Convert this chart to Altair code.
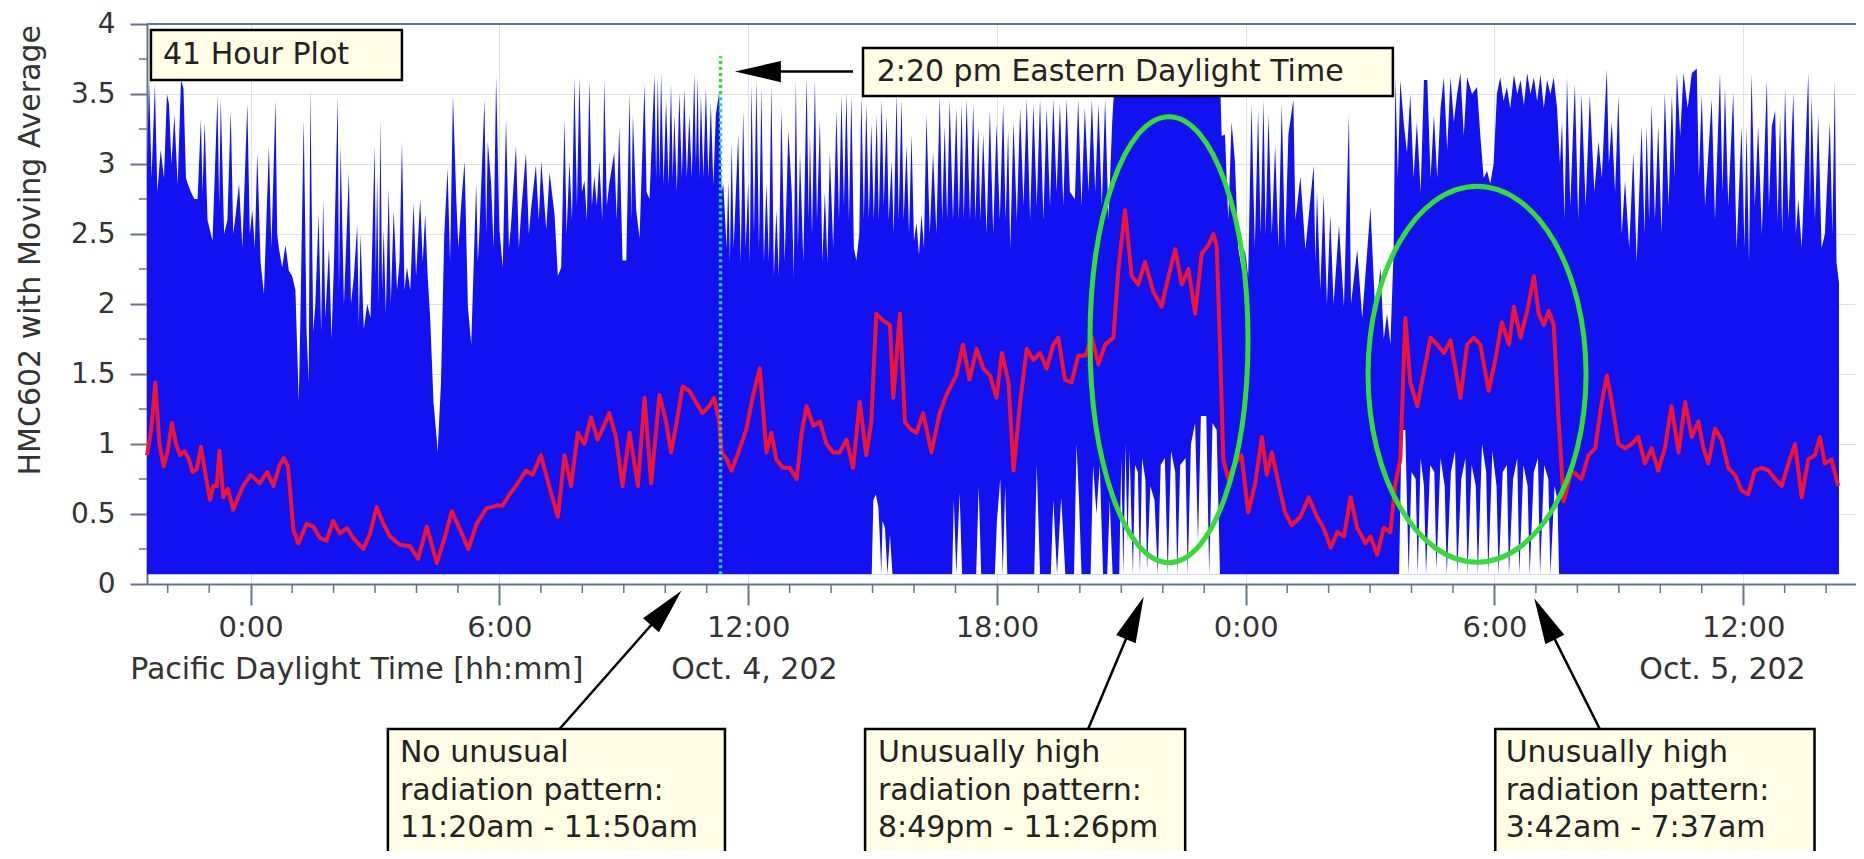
import math
import altair as alt
import pandas as pd

# ---------------- data (hours relative to Oct. 4 0:00 PDT) ----------------
hour_ticks = [0, 6, 12, 18, 24, 30, 36]
minor_hours = [h for h in range(-2, 39) if h % 6 != 0]
value_ticks = [0, 0.5, 1, 1.5, 2, 2.5, 3, 3.5, 4]
minor_values = [0.25, 0.75, 1.25, 1.75, 2.25, 2.75, 3.25, 3.75]
y_title = "HMC602 with Moving Average"

# upper envelope of the raw HMC602 trace (spike tops and valleys)
blue_top = [
    (-2.50, 3.0), (-2.49, 3.1), (-2.45, 3.6), (-2.39, 2.9), (-2.31, 3.57), (-2.25, 2.8), (-2.17, 3.1),
    (-2.09, 2.9), (-2.02, 3.5), (-1.97, 3.43), (-1.91, 3.0), (-1.84, 3.35), (-1.76, 2.85), (-1.68, 3.6),
    (-1.62, 3.54), (-1.56, 2.9), (-1.52, 2.86), (-1.44, 2.8), (-1.36, 2.75), (-1.28, 2.75), (-1.20, 3.32),
    (-1.16, 2.8), (-1.11, 3.3), (-1.04, 2.6), (-0.92, 2.45), (-0.80, 3.49), (-0.76, 2.7), (-0.72, 3.46),
    (-0.64, 2.5), (-0.56, 2.6), (-0.48, 3.38), (-0.42, 2.5), (-0.36, 2.64), (-0.28, 2.86), (-0.20, 2.4),
    (-0.08, 3.43), (-0.02, 2.5), (0.04, 2.67), (0.10, 2.4), (0.16, 3.08), (0.24, 2.3), (0.32, 2.07),
    (0.38, 2.6), (0.44, 3.13), (0.50, 2.4), (0.60, 3.46), (0.64, 2.5), (0.68, 2.4), (0.76, 2.26),
    (0.84, 2.42), (0.92, 2.24), (1.00, 2.2), (1.08, 2.1), (1.16, 1.3), (1.20, 1.9), (1.28, 3.32),
    (1.35, 1.8), (1.40, 1.44), (1.44, 3.54), (1.51, 1.8), (1.56, 2.0), (1.64, 2.64), (1.70, 1.8),
    (1.75, 2.75), (1.80, 1.9), (1.89, 2.4), (1.95, 1.75), (2.01, 2.3), (2.10, 3.49), (2.13, 2.1),
    (2.17, 3.13), (2.25, 2.0), (2.37, 2.94), (2.42, 2.0), (2.49, 2.2), (2.57, 2.56), (2.61, 1.85),
    (2.65, 2.5), (2.73, 1.82), (2.81, 2.0), (2.89, 1.9), (2.99, 3.13), (3.02, 2.2), (3.05, 2.92),
    (3.09, 2.0), (3.13, 3.32), (3.17, 2.1), (3.21, 2.53), (3.26, 1.93), (3.33, 2.83), (3.38, 2.0),
    (3.45, 2.67), (3.53, 2.1), (3.59, 2.3), (3.65, 3.16), (3.71, 2.1), (3.77, 2.26), (3.85, 2.1),
    (3.93, 2.72), (3.99, 2.2), (4.09, 2.75), (4.15, 2.3), (4.21, 2.64), (4.27, 2.2), (4.33, 1.9),
    (4.41, 1.3), (4.49, 1.03),
    (4.51, 0.94), (4.59, 1.43), (4.67, 2.5), (4.75, 2.97), (4.81, 2.3), (4.88, 3.49), (4.96, 2.75),
    (5.01, 2.4), (5.08, 2.72), (5.16, 3.02), (5.24, 1.98), (5.32, 1.71), (5.44, 2.86), (5.48, 2.3),
    (5.52, 2.53), (5.64, 3.46), (5.68, 2.5), (5.72, 3.16), (5.80, 2.86), (5.86, 2.4), (5.92, 3.62),
    (6.00, 2.53), (6.08, 2.26), (6.16, 3.32), (6.23, 2.4), (6.28, 2.56), (6.40, 3.13), (6.47, 2.4),
    (6.52, 2.64), (6.64, 3.08), (6.71, 2.5), (6.76, 2.67), (6.88, 2.99), (6.95, 2.6), (7.01, 3.02),
    (7.13, 2.53), (7.21, 2.94), (7.33, 2.64), (7.41, 2.2), (7.49, 2.26), (7.57, 3.32), (7.62, 2.5),
    (7.69, 3.02), (7.75, 2.6), (7.81, 3.62), (7.87, 2.7), (7.93, 3.62), (7.99, 2.8), (8.05, 2.88),
    (8.11, 2.6), (8.17, 3.6), (8.23, 2.7), (8.29, 2.91), (8.35, 2.7), (8.41, 3.02), (8.48, 2.6),
    (8.53, 3.6), (8.59, 2.7), (8.65, 2.86), (8.77, 3.08), (8.83, 2.6), (8.89, 3.27), (8.97, 2.31),
    (9.06, 2.31), (9.14, 3.51), (9.18, 2.6), (9.22, 3.35), (9.30, 2.67), (9.38, 2.47), (9.50, 3.57),
    (9.55, 2.8), (9.62, 2.75), (9.74, 3.64), (9.78, 2.9), (9.82, 3.62), (9.86, 2.9), (9.90, 3.65),
    (9.96, 2.85), (10.02, 3.46), (10.08, 2.85), (10.14, 3.57), (10.18, 2.9), (10.22, 3.35), (10.28, 2.8),
    (10.34, 3.51), (10.40, 2.9), (10.46, 3.54), (10.52, 2.9), (10.58, 3.35), (10.64, 2.9), (10.70, 3.65),
    (10.74, 3.0), (10.78, 3.62), (10.82, 2.9), (10.86, 3.49), (10.92, 2.9), (10.98, 3.54), (11.04, 2.9),
    (11.10, 3.43), (11.16, 2.85), (11.22, 3.35), (11.30, 3.51),
    (11.36, 2.8), (11.40, 2.86), (11.48, 2.4), (11.52, 2.88), (11.56, 2.3), (11.60, 3.16), (11.65, 2.4),
    (11.76, 3.21), (11.82, 2.3), (11.88, 3.38), (11.94, 2.4), (12.00, 2.86), (12.04, 2.3), (12.08, 3.57),
    (12.14, 2.5), (12.20, 3.6), (12.26, 2.4), (12.32, 3.54), (12.38, 2.3), (12.44, 2.86), (12.50, 2.3),
    (12.56, 3.57), (12.62, 2.2), (12.68, 2.67), (12.74, 2.2), (12.80, 3.4), (12.88, 2.3), (12.97, 3.24),
    (13.05, 2.8), (13.10, 2.2), (13.15, 3.6), (13.20, 2.4), (13.25, 3.08), (13.33, 2.3), (13.41, 3.62),
    (13.46, 2.6), (13.49, 3.21), (13.54, 2.5), (13.61, 3.6), (13.66, 2.6), (13.73, 3.32), (13.79, 2.3),
    (13.85, 2.8), (13.91, 2.3), (13.97, 3.08), (14.05, 2.4), (14.13, 3.38), (14.19, 2.6), (14.25, 3.49),
    (14.31, 2.7), (14.37, 3.51), (14.43, 2.6), (14.49, 3.49), (14.55, 2.4), (14.61, 2.31), (14.68, 2.5),
    (14.73, 3.49), (14.79, 2.6), (14.85, 3.43), (14.91, 2.6), (14.97, 3.29), (15.03, 2.6), (15.10, 3.35),
    (15.15, 2.6), (15.22, 3.46), (15.27, 2.7), (15.34, 3.35), (15.39, 2.6), (15.46, 3.02), (15.51, 2.5),
    (15.58, 3.51), (15.63, 2.6), (15.70, 3.46), (15.75, 2.6), (15.82, 3.13), (15.88, 2.5), (15.94, 3.21),
    (16.00, 2.45), (16.06, 2.58), (16.12, 2.35), (16.18, 2.64), (16.24, 2.4), (16.30, 3.35), (16.38, 2.5),
    (16.46, 3.08), (16.54, 2.5), (16.62, 3.49), (16.68, 2.6), (16.74, 3.27), (16.80, 2.6), (16.86, 3.46),
    (16.94, 2.6), (17.02, 3.4), (17.08, 2.6), (17.15, 3.43), (17.20, 2.6), (17.27, 3.46), (17.35, 2.6),
    (17.43, 3.43), (17.48, 2.6), (17.55, 3.27), (17.60, 2.6), (17.67, 3.21), (17.75, 2.5), (17.83, 3.38),
    (17.91, 2.5), (17.99, 3.29), (18.07, 2.6), (18.15, 3.43), (18.21, 2.6), (18.27, 3.24),
    (18.32, 2.39), (18.40, 3.3), (18.48, 2.6), (18.56, 3.4), (18.64, 2.7), (18.72, 3.46), (18.80, 2.6),
    (18.88, 3.43), (18.96, 2.7), (19.04, 3.46), (19.12, 2.6), (19.20, 3.4), (19.28, 2.7), (19.36, 3.46),
    (19.44, 2.8), (19.52, 3.43), (19.60, 2.7), (19.68, 3.46), (19.76, 2.8), (19.88, 2.75), (19.96, 3.46),
    (20.04, 2.7), (20.12, 3.4), (20.21, 2.8), (20.29, 3.46), (20.37, 2.8), (20.45, 3.43), (20.53, 2.7),
    (20.61, 3.46), (20.69, 2.6), (20.78, 3.3), (20.85, 3.65), (23.38, 3.65), (23.42, 3.2), (23.50, 3.21),
    (23.58, 2.6), (23.66, 3.3), (23.74, 3.02), (23.82, 2.4), (23.90, 2.26), (23.98, 2.39), (24.06, 2.2),
    (24.14, 3.43), (24.22, 2.4), (24.30, 3.38), (24.36, 2.5), (24.43, 3.46), (24.48, 2.5), (24.55, 3.35),
    (24.63, 2.5), (24.71, 3.13), (24.79, 2.4), (24.87, 3.43), (24.95, 2.39), (25.03, 3.21), (25.15, 3.46),
    (25.20, 2.6), (25.32, 2.91), (25.44, 2.39), (25.64, 2.99), (25.68, 2.3), (25.72, 2.8), (25.80, 2.1),
    (25.88, 2.78), (25.96, 2.0), (26.04, 2.64), (26.12, 2.0), (26.25, 2.56), (26.37, 1.98), (26.49, 3.35),
    (26.54, 2.0), (26.69, 2.39), (26.81, 1.9), (27.01, 2.69), (27.13, 1.9), (27.25, 2.26), (27.33, 1.75),
    (27.41, 1.93), (27.49, 1.71), (27.57, 2.4), (27.61, 3.62), (27.67, 2.9), (27.73, 3.6), (27.81, 3.3),
    (27.89, 3.08), (27.97, 3.5), (28.05, 2.9), (28.13, 3.3), (28.22, 2.8), (28.30, 3.6), (28.38, 3.6),
    (28.46, 2.9), (28.54, 3.35), (28.62, 2.9), (28.70, 3.4), (28.78, 3.62), (28.86, 3.1), (28.94, 3.62),
    (29.02, 3.3), (29.10, 3.5), (29.18, 3.65), (29.26, 3.2), (29.34, 3.62), (29.46, 3.5), (29.58, 3.55),
    (29.66, 3.2), (29.74, 2.9), (29.82, 2.95), (29.90, 2.86), (29.98, 3.0), (30.06, 3.5), (30.14, 3.62),
    (30.22, 3.45), (30.30, 3.55), (30.38, 3.4), (30.47, 3.64), (30.55, 3.5), (30.63, 3.6), (30.71, 3.42),
    (30.79, 3.65), (30.87, 3.5), (30.95, 3.62), (31.03, 3.45), (31.11, 3.64), (31.19, 3.4), (31.27, 3.6),
    (31.35, 3.5), (31.43, 3.62), (31.51, 3.4), (31.58, 3.0), (31.63, 3.3), (31.69, 2.6), (31.75, 3.62),
    (31.83, 2.7), (31.91, 3.35),
    (31.94, 3.57), (32.02, 2.6), (32.10, 3.5), (32.20, 2.7), (32.30, 3.49), (32.41, 2.8), (32.51, 3.16),
    (32.59, 2.9), (32.71, 3.68), (32.76, 3.0), (32.83, 3.3), (32.91, 2.8), (32.99, 3.49), (33.07, 2.5),
    (33.15, 2.88), (33.25, 2.4), (33.35, 3.08), (33.43, 2.3), (33.55, 3.27), (33.62, 2.5), (33.67, 3.27),
    (33.73, 2.6), (33.79, 3.43), (33.87, 2.6), (33.95, 3.27), (34.03, 2.5), (34.11, 3.51), (34.20, 2.7),
    (34.28, 3.49), (34.34, 2.9), (34.40, 3.65), (34.48, 3.2), (34.56, 3.65), (34.66, 3.4), (34.76, 3.65),
    (34.88, 3.68), (34.93, 2.9), (35.00, 3.49), (35.08, 2.7), (35.16, 3.08), (35.24, 3.46), (35.32, 2.6),
    (35.44, 3.65), (35.50, 2.8), (35.56, 3.54), (35.64, 2.7), (35.76, 3.51), (35.84, 2.39), (35.96, 3.27),
    (36.03, 2.4), (36.08, 3.27), (36.14, 2.3), (36.20, 3.65), (36.28, 2.7), (36.36, 3.27), (36.45, 2.5),
    (36.57, 3.6), (36.62, 2.7), (36.69, 3.27), (36.77, 3.38), (36.83, 2.6), (36.89, 3.35), (36.94, 2.5),
    (37.01, 3.54), (37.09, 2.6), (37.21, 3.51), (37.27, 2.5), (37.33, 2.75), (37.41, 2.4), (37.57, 3.65),
    (37.61, 2.7), (37.65, 3.49), (37.73, 2.6), (37.81, 3.35), (37.89, 2.4), (37.97, 2.5), (38.09, 3.3),
    (38.15, 2.5), (38.21, 3.6), (38.25, 2.3), (38.31, 2.15),
]

# white holes at the bottom of the raw trace (lower envelope)
white_gaps = [
    (14.98, 0.07), (15.02, 0.6), (15.08, 0.64), (15.14, 0.55), (15.18, 0.3), (15.21, 0.07), (15.24, 0.45),
    (15.30, 0.4), (15.36, 0.07), (15.42, 0.35), (15.48, 0.07),
    (16.92, 0.07), (16.96, 0.6), (17.02, 0.07), (17.10, 0.65), (17.16, 0.07),
    (17.50, 0.07), (17.56, 0.7), (17.62, 0.07),
    (17.95, 0.07), (18.00, 0.45), (18.08, 0.75), (18.14, 0.07), (18.20, 0.7), (18.25, 0.07),
    (18.90, 0.07), (18.96, 0.85), (19.04, 0.07),
    (19.30, 0.07), (19.36, 0.6), (19.45, 0.07), (19.55, 0.62), (19.65, 0.07),
    (19.86, 0.07), (19.92, 1.0), (19.98, 0.6), (20.04, 0.07),
    (20.26, 0.07), (20.32, 0.85), (20.40, 0.5), (20.48, 0.85), (20.56, 0.07),
    (20.66, 0.07), (20.72, 0.6), (20.79, 0.07),
    (20.95, 0.07), (21.00, 0.9), (21.05, 0.07), (21.10, 1.0), (21.15, 0.3), (21.20, 0.95), (21.28, 0.07),
    (21.33, 0.85), (21.40, 0.8), (21.45, 0.07), (21.50, 0.9), (21.58, 0.75), (21.62, 0.1), (21.70, 0.7),
    (21.80, 0.6), (21.88, 0.07), (21.95, 0.85), (22.05, 0.9), (22.12, 0.07), (22.20, 0.95), (22.30, 0.8),
    (22.35, 0.07), (22.42, 0.85), (22.55, 0.9), (22.60, 0.07), (22.68, 1.0), (22.78, 1.15), (22.85, 0.3),
    (22.92, 1.2), (23.05, 1.2), (23.12, 0.07), (23.20, 1.15), (23.30, 1.1), (23.38, 0.07),
    (27.70, 0.07), (27.76, 1.1), (27.85, 1.1), (27.93, 0.07), (28.00, 0.8), (28.10, 0.75), (28.15, 0.07),
    (28.22, 0.9), (28.30, 0.7), (28.35, 0.07), (28.45, 0.85), (28.55, 0.8), (28.60, 0.1), (28.70, 0.9),
    (28.80, 0.7), (28.85, 0.07), (28.95, 0.8), (29.05, 0.95), (29.10, 0.07), (29.20, 0.75), (29.30, 0.9),
    (29.35, 0.07), (29.45, 0.85), (29.55, 0.7), (29.60, 0.07), (29.70, 1.0), (29.80, 0.8), (29.85, 0.07),
    (29.95, 0.95), (30.05, 0.7), (30.10, 0.07), (30.20, 0.8), (30.30, 0.85), (30.35, 0.07), (30.45, 0.75),
    (30.55, 0.9), (30.60, 0.07), (30.70, 0.85), (30.80, 0.7), (30.85, 0.07), (30.95, 0.8), (31.05, 0.9),
    (31.10, 0.07), (31.20, 0.85), (31.30, 0.75), (31.35, 0.07), (31.45, 0.7), (31.52, 0.6), (31.56, 0.07),
]

# moving average (red)
red_avg = [
    (-2.5, 0.92), (-2.4, 1.1), (-2.3, 1.44), (-2.2, 1.0), (-2.1, 0.84), (-2.0, 0.95), (-1.9, 1.15),
    (-1.8, 1.0), (-1.7, 0.92), (-1.6, 0.95), (-1.5, 0.9), (-1.4, 0.8), (-1.3, 0.82), (-1.2, 0.98),
    (-1.1, 0.8), (-0.98, 0.6), (-0.9, 0.7), (-0.82, 0.7), (-0.75, 0.95), (-0.66, 0.62), (-0.55, 0.68),
    (-0.42, 0.53), (-0.3, 0.62), (-0.18, 0.7), (0.0, 0.78), (0.22, 0.72), (0.4, 0.8), (0.55, 0.7),
    (0.7, 0.85), (0.8, 0.9), (0.9, 0.84), (0.95, 0.67), (1.03, 0.39), (1.15, 0.29), (1.35, 0.43),
    (1.51, 0.41), (1.67, 0.33), (1.83, 0.31), (1.99, 0.45), (2.15, 0.36), (2.32, 0.4), (2.47, 0.33),
    (2.72, 0.25), (2.88, 0.36), (3.04, 0.55), (3.2, 0.43), (3.36, 0.34), (3.6, 0.28), (3.84, 0.27),
    (4.04, 0.18), (4.25, 0.41), (4.49, 0.15), (4.69, 0.34), (4.85, 0.52), (5.05, 0.39), (5.25, 0.25),
    (5.45, 0.43), (5.69, 0.54), (5.93, 0.56), (6.08, 0.56), (6.24, 0.64), (6.4, 0.7), (6.64, 0.81),
    (6.8, 0.78), (7.0, 0.92), (7.2, 0.7), (7.41, 0.48), (7.57, 0.92), (7.73, 0.7), (7.89, 1.08),
    (8.05, 1.0), (8.21, 1.19), (8.37, 1.03), (8.49, 1.11), (8.65, 1.22), (8.81, 1.05), (8.97, 0.7),
    (9.14, 1.08), (9.34, 0.7), (9.5, 1.33), (9.66, 0.72), (9.86, 1.35), (10.02, 1.16), (10.14, 0.94),
    (10.26, 1.13), (10.42, 1.41), (10.58, 1.38), (10.74, 1.3), (10.9, 1.22), (11.06, 1.27), (11.18, 1.33),
    (11.3, 1.16), (11.36, 0.94), (11.48, 0.89), (11.6, 0.81), (11.8, 0.97), (11.96, 1.11), (12.12, 1.35),
    (12.28, 1.54), (12.44, 0.94), (12.56, 1.08), (12.68, 0.89), (12.84, 0.83), (13.0, 0.83), (13.17, 0.75),
    (13.29, 1.08), (13.41, 1.27), (13.57, 1.13), (13.73, 1.16), (13.89, 1.0), (14.05, 0.94), (14.21, 0.94),
    (14.37, 1.03), (14.53, 0.83), (14.69, 1.3), (14.85, 0.92), (14.97, 1.16), (15.09, 1.93), (15.26, 1.88),
    (15.42, 1.85), (15.5, 1.33), (15.66, 1.93), (15.78, 1.16), (15.9, 1.11), (16.06, 1.08), (16.22, 1.22),
    (16.42, 0.94), (16.62, 1.22), (16.78, 1.35), (17.02, 1.49), (17.18, 1.71), (17.34, 1.46), (17.51, 1.68),
    (17.67, 1.54), (17.83, 1.49), (17.99, 1.33), (18.12, 1.65), (18.28, 1.44), (18.4, 0.81), (18.56, 1.3),
    (18.72, 1.68), (18.88, 1.6), (19.04, 1.65), (19.2, 1.54), (19.36, 1.71), (19.48, 1.76), (19.64, 1.46),
    (19.8, 1.44), (19.96, 1.63), (20.13, 1.63), (20.29, 1.76), (20.45, 1.57), (20.61, 1.71), (20.81, 1.76),
    (20.93, 2.25), (21.09, 2.67), (21.25, 2.2), (21.41, 2.14), (21.57, 2.3), (21.77, 2.09), (21.97, 1.98),
    (22.14, 2.2), (22.3, 2.39), (22.46, 2.14), (22.62, 2.25), (22.78, 1.93), (22.94, 2.36), (23.1, 2.42),
    (23.22, 2.5), (23.3, 2.42), (23.38, 1.71), (23.46, 0.89), (23.58, 0.75), (23.74, 0.86), (23.9, 0.92),
    (24.06, 0.51), (24.23, 0.72), (24.39, 1.05), (24.51, 0.78), (24.63, 0.94), (24.79, 0.72), (24.95, 0.51),
    (25.11, 0.42), (25.32, 0.48), (25.52, 0.62), (25.72, 0.48), (25.88, 0.4), (26.05, 0.26), (26.21, 0.37),
    (26.37, 0.34), (26.53, 0.62), (26.69, 0.4), (26.89, 0.29), (27.01, 0.34), (27.17, 0.21), (27.33, 0.4),
    (27.49, 0.37), (27.61, 0.72), (27.73, 0.89), (27.85, 1.9), (27.97, 1.44), (28.14, 1.27), (28.3, 1.52),
    (28.46, 1.76), (28.62, 1.71), (28.78, 1.65), (28.94, 1.74), (29.18, 1.33), (29.34, 1.71), (29.5, 1.76),
    (29.66, 1.71), (29.86, 1.38), (30.02, 1.6), (30.18, 1.87), (30.35, 1.71), (30.47, 1.98), (30.63, 1.76),
    (30.79, 1.95), (30.95, 2.2), (31.07, 1.93), (31.19, 1.85), (31.31, 1.95), (31.43, 1.85), (31.55, 1.16),
    (31.67, 0.59), (31.86, 0.81), (32.1, 0.75), (32.27, 0.92), (32.43, 0.97), (32.59, 1.3), (32.71, 1.49),
    (32.83, 1.3), (32.99, 1.0), (33.15, 0.97), (33.31, 1.0), (33.47, 1.05), (33.63, 0.86), (33.79, 0.97),
    (33.95, 0.81), (34.11, 0.97), (34.27, 1.27), (34.44, 0.94), (34.6, 1.3), (34.76, 1.05), (34.92, 1.16),
    (35.04, 0.97), (35.16, 0.86), (35.32, 1.11), (35.48, 1.03), (35.64, 0.83), (35.8, 0.78), (35.96, 0.67),
    (36.12, 0.64), (36.28, 0.81), (36.45, 0.83), (36.61, 0.81), (36.77, 0.75), (36.93, 0.7), (37.09, 0.86),
    (37.25, 1.0), (37.41, 0.62), (37.57, 0.89), (37.73, 0.92), (37.85, 1.05), (37.97, 0.86), (38.13, 0.89),
    (38.29, 0.7),
]

trace_floor = 0.07
marker_hour = 11.333          # 11:20 am PDT = 2:20 pm EDT
ellipses = [                  # centre hour, centre value, half-width px, half-height px
    (22.15, 1.745, 79, 223),
    (29.58, 1.499, 109, 188),
]
axis_date_labels = [("Pacific Daylight Time [hh:mm]", 2.56), ("Oct. 4, 202", 12.15), ("Oct. 5, 202", 35.5)]
top_boxes = [("41 Hour Plot", -2.405, 3.649, 6, 56, -2.115, 31),
             ("2:20 pm Eastern Daylight Time", 14.77, 27.55, 24, 72, 15.10, 48)]
bottom_boxes = [
    (["No unusual", "radiation pattern:", "11:20am - 11:50am"], 3.31, 11.44, 3.60),
    (["Unusually high", "radiation pattern:", "8:49pm - 11:26pm"], 14.82, 22.54, 15.13),
    (["Unusually high", "radiation pattern:", "3:42am - 7:37am"], 30.02, 37.72, 30.27),
]
# arrows: (base hour, base px below top, tip hour, tip px below top)
arrows = [
    (14.53, 47.6, 11.68, 47.6),
    (7.45, 705, 10.39, 566.7),
    (20.2, 705, 21.54, 572.7),
    (32.54, 705, 30.96, 574.3),
]

# ---------------- layout ----------------
PXH = 41.46        # px per hour
PYV = 140.0        # px per unit
W, H = 1709, 560
X0 = -2.5
X1 = X0 + W / PXH
FONT = "DejaVu Sans"
BLUE = "#1212f0"
RED = "#ee1438"
GREEN = "#36dc36"
AXC = "#64768a"
TXT = "#222222"


def vy(px):
    return 4 - px / PYV


xsc = alt.Scale(domain=[X0, X1], nice=False, zero=False)
ysc = alt.Scale(domain=[0, 4], nice=False, zero=False)

x_axis = alt.Axis(values=hour_ticks, labelExpr="(datum.value % 24) + ':00'", title=None,
                  tickSize=21, tickWidth=2, tickColor=AXC, domainColor=AXC, domainWidth=2,
                  labelFont=FONT, labelFontSize=29, labelColor="#333333", labelPadding=8,
                  grid=True, gridColor="#dfe3e8", gridWidth=1)
y_axis = alt.Axis(values=value_ticks, labelExpr="datum.value + ''", title=None,
                  tickSize=17, tickWidth=2, tickColor=AXC, domainColor=AXC, domainWidth=2,
                  labelFont=FONT, labelFontSize=28, labelColor="#333333", labelPadding=15,
                  grid=True, gridColor="#dfe3e8", gridWidth=1)


def X(f):
    return alt.X(f, type="quantitative", scale=xsc, title=None)


def Y(f):
    return alt.Y(f, type="quantitative", scale=ysc, title=None)


def X2(f):
    return alt.X2(f, title=None)


def Y2(f):
    return alt.Y2(f, title=None)


blue_df = pd.DataFrame(blue_top, columns=["h", "v"])
gap_df = pd.DataFrame(white_gaps, columns=["h", "v"])
red_df = pd.DataFrame(red_avg, columns=["h", "v"])

blue = alt.Chart(blue_df).mark_area(color=BLUE, opacity=1).encode(
    x=alt.X("h:Q", scale=xsc, axis=x_axis),
    y=alt.Y("v:Q", scale=ysc, axis=y_axis),
    y2=alt.datum(trace_floor),
)
gaps = alt.Chart(gap_df).mark_area(color="white", opacity=1).encode(
    x=X("h"), y=Y("v"), y2=alt.datum(trace_floor))
red = alt.Chart(red_df).mark_line(color=RED, strokeWidth=4, strokeJoin="round").encode(
    x=X("h"), y=Y("v"))

dot_df = pd.DataFrame({"h": [marker_hour, marker_hour], "a": [trace_floor, 3.5], "b": [3.5, 3.77],
                       "c": ["low", "high"]})
dotted = alt.Chart(dot_df).mark_rule(strokeWidth=3.5, strokeDash=[3, 3]).encode(
    x=X("h"), y=Y("a"), y2=Y2("b"),
    color=alt.Color("c:N", scale=alt.Scale(domain=["low", "high"], range=["#24ccc4", GREEN]), legend=None))

ell_layers = []
for (eh, ev, rx, ry) in ellipses:
    a = rx / ry
    path = f"M {-a:.4f} 0 A {a:.4f} 1 0 1 0 {a:.4f} 0 A {a:.4f} 1 0 1 0 {-a:.4f} 0 Z"
    ell_layers.append(alt.Chart(pd.DataFrame({"h": [eh], "v": [ev]})).mark_point(
        shape=path, size=(2 * ry) ** 2, filled=False, color=GREEN, strokeWidth=5, opacity=1
    ).encode(x=X("h"), y=Y("v")))

# arrows
HEAD = "M 0 -1 L -0.46 1 L 0.46 1 Z"
HEAD_LEN = 46
line_rows, head_rows = [], []
for (bh, bpx, th, tpx) in arrows:
    bx, tx = (bh - X0) * PXH, (th - X0) * PXH
    dx, dy = tx - bx, tpx - bpx
    L = math.hypot(dx, dy)
    ux, uy = dx / L, dy / L
    cx, cy = tx - ux * HEAD_LEN / 2, tpx - uy * HEAD_LEN / 2
    ang = math.degrees(math.atan2(ux, -uy)) % 360
    line_rows.append({"h0": bh, "h1": X0 + cx / PXH, "v0": vy(bpx), "v1": vy(cy)})
    head_rows.append({"h": X0 + cx / PXH, "v": vy(cy), "ang": ang})
arrow_lines = alt.Chart(pd.DataFrame(line_rows)).mark_rule(color="black", strokeWidth=2.5).encode(
    x=X("h0"), x2=X2("h1"), y=Y("v0"), y2=Y2("v1"))
arrow_heads = alt.Chart(pd.DataFrame(head_rows)).mark_point(
    shape=HEAD, size=HEAD_LEN ** 2, filled=True, color="black", opacity=1, strokeWidth=0
).encode(x=X("h"), y=Y("v"), angle=alt.Angle("ang:Q", scale=None))

# boxes
box_rows, text_rows = [], []
for (txt, x0, x1, y0, y1, tx, ty) in top_boxes:
    box_rows.append({"x0": x0, "x1": x1, "y0": vy(y0), "y1": vy(y1)})
    text_rows.append({"h": tx, "v": vy(ty), "t": txt})
for (lines, x0, x1, tx) in bottom_boxes:
    box_rows.append({"x0": x0, "x1": x1, "y0": vy(705), "y1": vy(900)})
    for i, ln in enumerate(lines):
        text_rows.append({"h": tx, "v": vy(729 + 37.5 * i), "t": ln})
boxes = alt.Chart(pd.DataFrame(box_rows)).mark_rect(fill="#fffde4", stroke="black", strokeWidth=2.5).encode(
    x=X("x0"), x2=X2("x1"), y=Y("y0"), y2=Y2("y1"))
texts = alt.Chart(pd.DataFrame(text_rows)).mark_text(
    align="left", baseline="middle", font=FONT, fontSize=30, color=TXT).encode(
    x=X("h"), y=Y("v"), text="t:N")

date_df = pd.DataFrame([{"t": t, "h": h, "v": vy(646)} for (t, h) in axis_date_labels])
date_text = alt.Chart(date_df).mark_text(
    align="center", baseline="middle", font=FONT, fontSize=30, color="#333333").encode(
    x=X("h"), y=Y("v"), text="t:N")

title_text = alt.Chart(pd.DataFrame({"t": [y_title]})).mark_text(
    angle=270, align="right", baseline="middle", font=FONT, fontSize=30, color="#333333").encode(
    x=alt.value(-116), y=alt.value(1), text="t:N")

minor_x = alt.Chart(pd.DataFrame({"h": minor_hours})).mark_rule(color=AXC, strokeWidth=1.5).encode(
    x=X("h"), y=alt.value(H), y2=alt.value(H + 9))
minor_y = alt.Chart(pd.DataFrame({"v": minor_values})).mark_rule(color=AXC, strokeWidth=1.5).encode(
    y=Y("v"), x=alt.value(-8), x2=alt.value(0))
top_frame = alt.Chart(pd.DataFrame({"v": [4]})).mark_rule(color=AXC, strokeWidth=2).encode(
    y=Y("v"), x=alt.value(0), x2=alt.value(W))

chart = alt.layer(
    blue, gaps, red, dotted, *ell_layers, arrow_lines, arrow_heads, boxes, texts, date_text, title_text,
    minor_x, minor_y, top_frame
).properties(
    width=W, height=H,
    padding={"left": 139, "top": 16, "right": 0, "bottom": 267},
    autosize=alt.AutoSizeParams(type="none"),
    background="white",
).configure_view(stroke=None)

chart.save("out.html", embed_options={"renderer": "svg", "actions": False})
